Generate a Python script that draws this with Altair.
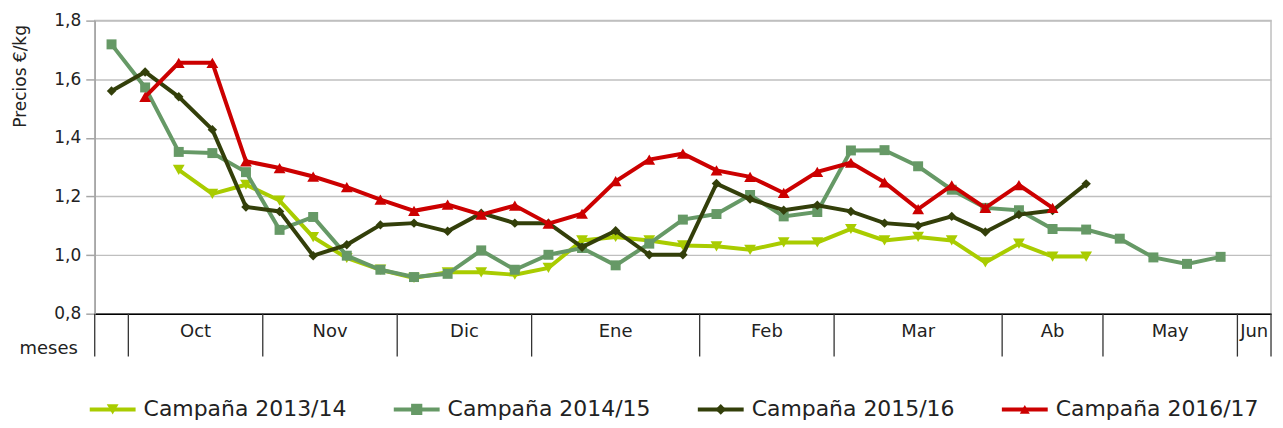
import altair as alt
import pandas as pd

# ---------------- data ----------------
campanas = ["Campaña 2013/14", "Campaña 2014/15", "Campaña 2015/16", "Campaña 2016/17"]
inicio = [2, 0, 0, 1]  # first week index of each series

precios_1314 = [1.291, 1.209, 1.240, 1.186, 1.061, 0.990, 0.950, 0.922, 0.941, 0.941,
                0.933, 0.956, 1.050, 1.062, 1.050, 1.033, 1.030, 1.018, 1.043, 1.043,
                1.089, 1.050, 1.062, 1.050, 0.975, 1.039, 0.995, 0.995]
precios_1415 = [1.719, 1.572, 1.352, 1.348, 1.283, 1.086, 1.130, 0.998, 0.950, 0.925,
                0.936, 1.016, 0.950, 1.001, 1.024, 0.965, 1.039, 1.121, 1.140, 1.205,
                1.132, 1.147, 1.357, 1.358, 1.303, 1.223, 1.161, 1.153, 1.089, 1.087,
                1.056, 0.992, 0.970, 0.994]
precios_1516 = [1.560, 1.625, 1.540, 1.428, 1.164, 1.149, 0.998, 1.035, 1.103, 1.109,
                1.081, 1.143, 1.109, 1.109, 1.027, 1.083, 1.001, 1.001, 1.244, 1.191,
                1.153, 1.170, 1.149, 1.109, 1.100, 1.132, 1.079, 1.138, 1.152, 1.243]
precios_1617 = [1.540, 1.656, 1.656, 1.320, 1.297, 1.268, 1.232, 1.189, 1.151, 1.172,
                1.138, 1.169, 1.107, 1.141, 1.252, 1.326, 1.346, 1.289, 1.267, 1.212,
                1.284, 1.315, 1.248, 1.157, 1.238, 1.161, 1.239, 1.161]

meses = ["", "Oct", "Nov", "Dic", "Ene", "Feb", "Mar", "Ab", "May", "Jun"]
semanas_mes = [1, 4, 4, 4, 5, 4, 5, 3, 4, 1]

y_ticks = [0.8, 1.0, 1.2, 1.4, 1.6, 1.8]

# ---------------- styles ----------------
colores = ["#A9CC00", "#669966", "#333F0A", "#CC0000"]
formas = ["triangle-down", "square", "diamond", "triangle-up"]
tamanos = [140, 100, 90, 140]
FONT = "DejaVu Sans"
W, H = 1180, 294

series = [precios_1314, precios_1415, precios_1516, precios_1617]
filas = []
for k, (nombre, vals) in enumerate(zip(campanas, series)):
    for j, v in enumerate(vals):
        filas.append({"campana": nombre, "semana": inicio[k] + j, "precio": v})
df = pd.DataFrame(filas)

# month spans
bordes, centros = [], []
acc = 0
for n in semanas_mes:
    centros.append(acc + n / 2 - 0.5)
    acc += n
    bordes.append(acc - 0.5)
df_mes = pd.DataFrame({"mes": meses, "centro": centros})
df_borde = pd.DataFrame({"borde": [-0.5] + bordes})

# legend layout
df_leg = pd.DataFrame({
    "campana": campanas,
    "lx": [-5 + k * 305 for k in range(4)],
})
df_leg["lx2"] = df_leg["lx"] + 46
df_leg["lm"] = df_leg["lx"] + 23
df_leg["lt"] = df_leg["lx"] + 54

xs = alt.Scale(domain=[-0.5, sum(semanas_mes) - 0.5], nice=False, zero=False)
ys = alt.Scale(domain=[0.8, 1.8], nice=False, zero=False)
xaxis = alt.Axis(labels=False, ticks=False, grid=False, title=None,
                 domainColor="#000000", domainWidth=1.5)
yaxis = alt.Axis(values=y_ticks, labelExpr="replace(format(datum.value, '.1f'), '.', ',')",
                 title="Precios €/kg", titleAngle=270, titleX=-74, titleY=4,
                 titleAlign="right", titleBaseline="middle",
                 titleFontSize=17, titleFontWeight="normal", titleColor="#222222",
                 grid=True, gridColor="#BFBFBF", gridWidth=1.5,
                 domainColor="#A6A6A6", domainWidth=1.5,
                 tickColor="#A6A6A6", tickSize=9, tickWidth=1.5,
                 labelFontSize=17, labelColor="#222222", labelPadding=5)

X = alt.X("semana:Q", scale=xs, axis=xaxis)
Y = alt.Y("precio:Q", scale=ys, axis=yaxis)

capas = []
for k, nombre in enumerate(campanas):
    base = alt.Chart(df).transform_filter(alt.datum.campana == nombre)
    capas.append(base.mark_line(strokeWidth=4, color=colores[k]).encode(x=X, y=Y))
    capas.append(base.mark_point(filled=True, shape=formas[k], size=tamanos[k],
                                 color=colores[k], opacity=1).encode(x=X, y=Y))

# month separators and labels below the axis
sep = alt.Chart(df_borde).mark_rule(color="#333333", strokeWidth=1.3).encode(
    x=alt.X("borde:Q", scale=xs, axis=xaxis),
    y=alt.value(H), y2=alt.value(H + 43))
lab = alt.Chart(df_mes).mark_text(font=FONT, fontSize=18, color="#222222",
                                  baseline="middle").encode(
    x=alt.X("centro:Q", scale=xs, axis=xaxis), y=alt.value(H + 18), text="mes:N")
meses_t = alt.Chart(pd.DataFrame({"t": ["meses"]})).mark_text(
    font=FONT, fontSize=18, color="#222222", align="right", baseline="middle").encode(
    x=alt.value(-17), y=alt.value(H + 35), text="t:N")

# custom legend
leg_rule = alt.Chart(df_leg).mark_rule(strokeWidth=4).encode(
    x=alt.X("lx:Q", scale=None, axis=None), x2="lx2:Q", y=alt.value(H + 96),
    color=alt.Color("campana:N", scale=alt.Scale(domain=campanas, range=colores), legend=None))
leg_pt = alt.Chart(df_leg).mark_point(filled=True, opacity=1).encode(
    x=alt.X("lm:Q", scale=None, axis=None), y=alt.value(H + 96),
    color=alt.Color("campana:N", scale=alt.Scale(domain=campanas, range=colores), legend=None),
    shape=alt.Shape("campana:N", scale=alt.Scale(domain=campanas, range=formas), legend=None),
    size=alt.Size("campana:N", scale=alt.Scale(domain=campanas, range=tamanos), legend=None))
leg_txt = alt.Chart(df_leg).mark_text(font=FONT, fontSize=22, color="#222222",
                                      align="left", baseline="middle").encode(
    x=alt.X("lt:Q", scale=None, axis=None), y=alt.value(H + 96), text="campana:N")

chart = alt.layer(*capas, sep, lab, meses_t, leg_rule, leg_pt, leg_txt).properties(
    width=W, height=H,
    padding={"left": 87, "top": 12, "right": 4, "bottom": 110},
    autosize=alt.AutoSizeParams(type="none"),
    background="white",
).configure_view(stroke="#BFBFBF", strokeWidth=1.5).configure_axis(
    labelFont=FONT, titleFont=FONT)

chart.save("out.html", embed_options={"renderer": "svg", "actions": False})
